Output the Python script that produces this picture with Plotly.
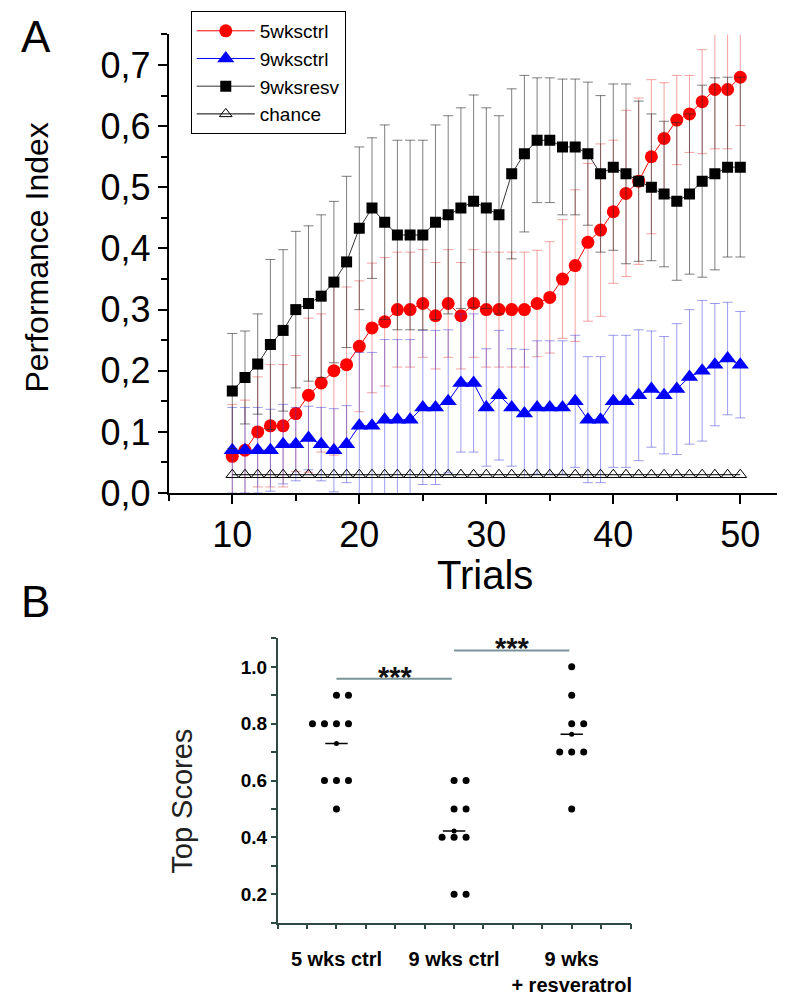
import numpy as np
import plotly.graph_objects as go

# ---------------- data: panel A ----------------
trials = list(range(10, 51))

pi_5wks_ctrl = [0.06, 0.07, 0.10, 0.11, 0.11, 0.13, 0.16, 0.18, 0.20, 0.21,
                0.24, 0.27, 0.28, 0.30, 0.30, 0.31, 0.29, 0.31, 0.29, 0.31,
                0.30, 0.30, 0.30, 0.30, 0.31, 0.32, 0.35, 0.372, 0.41, 0.43,
                0.46, 0.49, 0.51, 0.55, 0.58, 0.61, 0.62, 0.64, 0.66, 0.66, 0.68]
err_5wks_ctrl = [0.085, 0.082, 0.09, 0.10, 0.10, 0.095, 0.126, 0.113, 0.138, 0.127,
                 0.107, 0.106, 0.105, 0.094, 0.094, 0.088, 0.087, 0.088, 0.087, 0.088,
                 0.094, 0.094, 0.094, 0.094, 0.087, 0.091, 0.097, 0.124, 0.129, 0.141,
                 0.117, 0.136, 0.136, 0.126, 0.091, 0.073, 0.063, 0.085, 0.097, 0.097, 0.079]

pi_9wks_ctrl = [0.07, 0.07, 0.07, 0.07, 0.08, 0.08, 0.09, 0.08, 0.07, 0.08,
                0.11, 0.11, 0.12, 0.12, 0.12, 0.14, 0.14, 0.15, 0.18, 0.18,
                0.14, 0.16, 0.14, 0.13, 0.14, 0.14, 0.14, 0.15, 0.12, 0.12,
                0.15, 0.15, 0.16, 0.17, 0.16, 0.17, 0.19, 0.20, 0.21, 0.22, 0.21]
err_9wks_ctrl = [0.07, 0.07, 0.07, 0.067, 0.065, 0.06, 0.052, 0.06, 0.068, 0.063,
                 0.12, 0.12, 0.131, 0.131, 0.131, 0.126, 0.126, 0.117, 0.113, 0.113,
                 0.096, 0.106, 0.096, 0.105, 0.109, 0.109, 0.109, 0.108, 0.103, 0.103,
                 0.108, 0.108, 0.107, 0.095, 0.096, 0.107, 0.11, 0.115, 0.10, 0.092, 0.087]

pi_9wks_resv = [0.167, 0.189, 0.211, 0.243, 0.266, 0.300, 0.310, 0.322, 0.345, 0.378,
                0.433, 0.466, 0.443, 0.422, 0.422, 0.422, 0.443, 0.455, 0.466, 0.477,
                0.466, 0.455, 0.522, 0.555, 0.577, 0.577, 0.566, 0.566, 0.555, 0.522,
                0.533, 0.522, 0.510, 0.500, 0.489, 0.477, 0.489, 0.510, 0.522, 0.533, 0.533]
err_9wks_resv = [0.094, 0.076, 0.082, 0.139, 0.132, 0.128, 0.127, 0.133, 0.132, 0.14,
                 0.133, 0.115, 0.159, 0.155, 0.155, 0.155, 0.159, 0.162, 0.164, 0.174,
                 0.164, 0.162, 0.139, 0.128, 0.102, 0.102, 0.111, 0.111, 0.117, 0.128,
                 0.136, 0.147, 0.131, 0.12, 0.119, 0.129, 0.131, 0.157, 0.157, 0.147, 0.147]

pi_chance = [0.03] * 41

# ---------------- data: panel B ----------------
groups = ["5 wks ctrl", "9 wks ctrl", "9 wks<br>+ resveratrol"]
scores_5wks_ctrl = [0.9, 0.9, 0.8, 0.8, 0.8, 0.8, 0.6, 0.6, 0.6, 0.5]
scores_9wks_ctrl = [0.6, 0.6, 0.5, 0.5, 0.4, 0.4, 0.4, 0.2, 0.2]
scores_9wks_resv = [1.0, 0.9, 0.8, 0.8, 0.7, 0.7, 0.7, 0.5]
significance = ["***", "***"]

FONT = "Liberation Sans, Arial, sans-serif"
W, H = 785, 997


def px_x(p):
    return p / W


def px_y(p):
    return 1 - p / H


fig = go.Figure()

series = [
    ("5wksctrl", pi_5wks_ctrl, err_5wks_ctrl, "#ff0000", "rgba(235,70,70,0.5)", "circle", 13),
    ("9wksctrl", pi_9wks_ctrl, err_9wks_ctrl, "#0000ff", "rgba(60,60,220,0.5)", "triangle-up", 15),
    ("9wksresv", pi_9wks_resv, err_9wks_resv, "#000000", "rgba(40,40,40,0.6)", "square", 11),
]
for name, vals, errs, col, ecol, sym, size in series:
    fig.add_trace(go.Scatter(
        x=trials, y=vals, name=name, mode="lines+markers",
        line=dict(color=col if col != "#000000" else "#333333", width=1),
        marker=dict(symbol=sym, size=size, color=col, line=dict(width=0)),
        error_y=dict(type="data", array=errs, visible=True, color=ecol,
                     thickness=1, width=5),
        xaxis="x", yaxis="y"))

fig.add_trace(go.Scatter(
    x=trials, y=pi_chance, name="chance", mode="lines+markers",
    line=dict(color="black", width=1),
    marker=dict(symbol="triangle-up-open", size=11, color="black", line=dict(width=1)),
    xaxis="x", yaxis="y"))

# ---------------- panel B marks ----------------
SPACING = 0.102


def dot_offsets(n):
    start = 0 if n == 2 else -(n // 2)
    return [(start + k) * SPACING for k in range(n)]


all_groups = [scores_5wks_ctrl, scores_9wks_ctrl, scores_9wks_resv]
for gi, vals in enumerate(all_groups):
    xs, ys = [], []
    for v in sorted(set(vals), reverse=True):
        n = vals.count(v)
        for off in dot_offsets(n):
            xs.append(gi + off)
            ys.append(v)
    fig.add_trace(go.Scatter(x=xs, y=ys, mode="markers", showlegend=False,
                             marker=dict(size=7, color="black"),
                             xaxis="x2", yaxis="y2"))
    m = float(np.mean(vals))
    fig.add_trace(go.Scatter(x=[gi], y=[m], mode="markers", showlegend=False,
                             marker=dict(symbol="line-ew", size=16,
                                         line=dict(width=1.5, color="black")),
                             xaxis="x2", yaxis="y2"))
    fig.add_trace(go.Scatter(x=[gi], y=[m], mode="markers", showlegend=False,
                             marker=dict(size=5, color="black"),
                             xaxis="x2", yaxis="y2"))

annotations = []
for i, star in enumerate(significance):
    h = max(all_groups[i] + all_groups[i + 1]) + 0.058
    fig.add_trace(go.Scatter(x=[i, i + 0.98], y=[h, h], mode="lines", showlegend=False,
                             line=dict(color="#7a9399", width=2),
                             xaxis="x2", yaxis="y2"))
    annotations.append(dict(x=i + 0.5, y=h, xref="x2", yref="y2", text="<b>" + star + "</b>",
                            showarrow=False, yanchor="bottom", yshift=-16,
                            font=dict(family=FONT, size=29, color="#111")))

# ---------------- text labels ----------------
annotations += [
    dict(x=px_x(28), y=px_y(29), xref="paper", yref="paper", text="A", showarrow=False,
         xanchor="center", yanchor="middle", font=dict(family=FONT, size=44, color="black")),
    dict(x=px_x(28), y=px_y(606), xref="paper", yref="paper", text="B", showarrow=False,
         xanchor="center", yanchor="middle", font=dict(family=FONT, size=44, color="black")),
    dict(x=px_x(29), y=px_y(255), xref="paper", yref="paper", text="Performance Index",
         showarrow=False, textangle=-90, xanchor="center", yanchor="middle",
         font=dict(family=FONT, size=32, color="black")),
    dict(x=px_x(478), y=px_y(579), xref="paper", yref="paper", text="Trials",
         showarrow=False, xanchor="center", yanchor="middle",
         font=dict(family=FONT, size=40, color="black")),
    dict(x=px_x(174), y=px_y(810), xref="paper", yref="paper", text="Top Scores",
         showarrow=False, textangle=-90, xanchor="center", yanchor="middle",
         font=dict(family=FONT, size=29, color="#222")),
]

ytop_vals = [round(v, 1) for v in np.arange(0, 0.71, 0.1)]
ybot_vals = [0.2, 0.4, 0.6, 0.8, 1.0]
AX2 = "#2f4a44"

fig.update_layout(
    width=W, height=H, margin=dict(l=0, r=0, t=0, b=0),
    paper_bgcolor="white", plot_bgcolor="white",
    xaxis=dict(domain=[px_x(161), px_x(779)], range=[5, 53.6], anchor="y",
               showline=True, linecolor="black", linewidth=2, showgrid=False, zeroline=False,
               ticks="outside", ticklen=9, tickwidth=2, tickcolor="black",
               tick0=0, dtick=10,
               minor=dict(ticks="outside", tick0=0, dtick=5, ticklen=6, tickwidth=1.5,
                          tickcolor="black", showgrid=False),
               tickfont=dict(family=FONT, size=36, color="black")),
    yaxis=dict(domain=[px_y(495.5), px_y(27)], range=[0, 0.75], anchor="x",
               showline=True, linecolor="black", linewidth=2, showgrid=False, zeroline=False,
               ticks="outside", ticklen=9, tickwidth=2, tickcolor="black",
               tickmode="array", tickvals=ytop_vals,
               ticktext=[f"{v:.1f}".replace(".", ",") for v in ytop_vals],
               minor=dict(ticks="outside", tick0=0, dtick=0.05, ticklen=6, tickwidth=1.5,
                          tickcolor="black", showgrid=False),
               tickfont=dict(family=FONT, size=36, color="black")),
    xaxis2=dict(domain=[px_x(270), px_x(623.3)], range=[-0.5, 2.5], anchor="y2",
                showline=True, linecolor=AX2, linewidth=1.5, showgrid=False, zeroline=False,
                ticks="outside", ticklen=5, tickwidth=1.5, tickcolor=AX2,
                tickmode="array", tickvals=list(range(len(groups))), ticktext=groups,
                ticklabelstandoff=13,
                minor=dict(ticks="outside", tick0=0, dtick=0.25, ticklen=5, tickwidth=1.5,
                           tickcolor=AX2, showgrid=False),
                tickfont=dict(family=FONT, size=20, color="black", weight="bold")),
    yaxis2=dict(domain=[px_y(934.3), px_y(644)], range=[0.1, 1.1], anchor="x2",
                showline=True, linecolor=AX2, linewidth=1.5, showgrid=False, zeroline=False,
                ticks="outside", ticklen=5, tickwidth=1.5, tickcolor=AX2,
                tickmode="array", tickvals=ybot_vals, ticktext=[f"{v:.1f}" for v in ybot_vals],
                minor=dict(ticks="outside", tick0=0.1, dtick=0.1, ticklen=5, tickwidth=1.5,
                           tickcolor=AX2, showgrid=False),
                tickfont=dict(family=FONT, size=19, color="black", weight="bold")),
    legend=dict(x=px_x(183), y=px_y(3), xanchor="left", yanchor="top",
                bgcolor="white", bordercolor="black", borderwidth=1,
                font=dict(family=FONT, size=19, color="black"),
                itemwidth=58, tracegroupgap=0),
    annotations=annotations,
    showlegend=True,
)

fig.write_html("out.html")
